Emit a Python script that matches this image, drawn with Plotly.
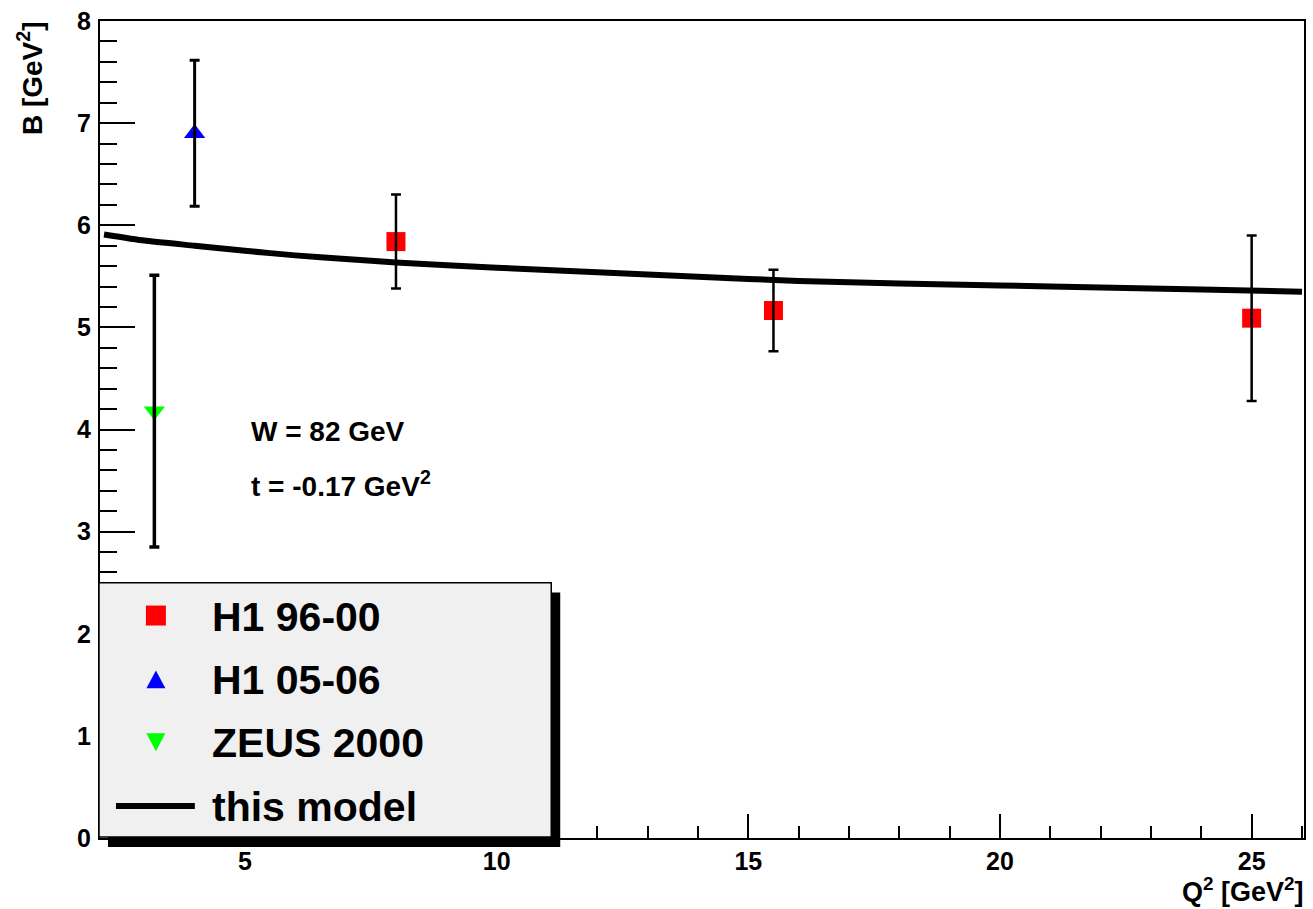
import plotly.graph_objects as go

# ---------------- data ----------------
h1_9600_q2 = [8.0, 15.5, 25.0]
h1_9600_b = [5.84, 5.165, 5.09]
h1_9600_err = [0.46, 0.40, 0.81]

h1_0506_q2 = [4.0]
h1_0506_b = [6.90]
h1_0506_err = [0.715]

zeus_q2 = [3.2]
zeus_b = [4.18]
zeus_err = [1.33]

model_q2 = [2.2, 3, 4, 5, 6, 7, 8, 10, 12, 14, 16, 18, 20, 22, 24, 26]
model_b = [5.91, 5.85, 5.80, 5.75, 5.705, 5.67, 5.635, 5.585, 5.54, 5.495, 5.455, 5.43, 5.41, 5.39, 5.37, 5.35]

legend_labels = ["H1 96-00", "H1 05-06", "ZEUS 2000", "this model"]

# ---------------- geometry helpers (pixels -> paper) ----------------
W, H = 1313, 909
L, R, T, B = 100, 7, 19, 71
PW, PH = W - L - R, H - T - B


def px(x):
    return (x - L) / PW


def py(y):
    return (H - B - y) / PH


FONT = "Liberation Sans, Arial, Helvetica, sans-serif"

fig = go.Figure()

# model curve
fig.add_trace(go.Scatter(x=model_q2, y=model_b, mode="lines",
                         line=dict(color="black", width=6, shape="spline", smoothing=0.5),
                         showlegend=False, hoverinfo="skip"))

# data markers
fig.add_trace(go.Scatter(x=h1_9600_q2, y=h1_9600_b, mode="markers",
                         marker=dict(symbol="square", size=19, color="#ff0000"),
                         showlegend=False))
fig.add_trace(go.Scatter(x=h1_0506_q2, y=h1_0506_b, mode="markers",
                         marker=dict(symbol="triangle-up", size=18.5, color="#0000ff"),
                         showlegend=False))
fig.add_trace(go.Scatter(x=zeus_q2, y=zeus_b, mode="markers",
                         marker=dict(symbol="triangle-down", size=18.5, color="#00ff00"),
                         showlegend=False))

# error bars drawn above markers
for xs, ys, es, th in [(h1_9600_q2, h1_9600_b, h1_9600_err, 2.5),
                       (h1_0506_q2, h1_0506_b, h1_0506_err, 3),
                       (zeus_q2, zeus_b, zeus_err, 3.5)]:
    fig.add_trace(go.Scatter(x=xs, y=ys, mode="markers",
                             marker=dict(size=2, color="rgba(0,0,0,0)"),
                             error_y=dict(type="data", array=es, visible=True,
                                          color="black", thickness=th, width=5),
                             showlegend=False, hoverinfo="skip"))

axis_common = dict(showline=True, linecolor="black", linewidth=2, mirror=True,
                   ticks="inside", tickcolor="black", tickwidth=2,
                   showgrid=False, zeroline=False,
                   tickfont=dict(family=FONT, size=25, color="black", weight="bold"))

fig.update_xaxes(range=[2.12, 26.04], tick0=0, dtick=5, ticklen=24,
                 minor=dict(dtick=1, ticklen=12, tickwidth=2, tickcolor="black",
                            ticks="inside", showgrid=False),
                 **axis_common)
fig.update_yaxes(range=[0, 8], tick0=0, dtick=1, ticklen=35, ticklabelstandoff=2,
                 minor=dict(dtick=0.2, ticklen=17, tickwidth=2, tickcolor="black",
                            ticks="inside", showgrid=False),
                 **axis_common)

# ---------------- legend (box with shadow) ----------------
shapes = []
shapes.append(dict(type="rect", xref="paper", yref="paper",
                   x0=px(108), x1=px(561), y0=py(847), y1=py(592),
                   fillcolor="black", line=dict(width=0), layer="above"))
shapes.append(dict(type="rect", xref="paper", yref="paper",
                   x0=px(99), x1=px(552), y0=py(837), y1=py(582),
                   fillcolor="#f0f0f0", line=dict(color="black", width=1.5), layer="above"))

rows = [615, 679, 742, 806]
mx = 156
# red square
shapes.append(dict(type="rect", xref="paper", yref="paper",
                   x0=px(mx - 10), x1=px(mx + 10), y0=py(rows[0] + 10), y1=py(rows[0] - 10),
                   fillcolor="#ff0000", line=dict(width=0), layer="above"))
# blue triangle up
r = rows[1]
shapes.append(dict(type="path", xref="paper", yref="paper",
                   path=f"M {px(mx-9.5)},{py(r+9)} L {px(mx+9.5)},{py(r+9)} L {px(mx)},{py(r-9)} Z",
                   fillcolor="#0000ff", line=dict(width=0), layer="above"))
# green triangle down
r = rows[2]
shapes.append(dict(type="path", xref="paper", yref="paper",
                   path=f"M {px(mx-9.5)},{py(r-9)} L {px(mx+9.5)},{py(r-9)} L {px(mx)},{py(r+9)} Z",
                   fillcolor="#00ff00", line=dict(width=0), layer="above"))
# line sample
shapes.append(dict(type="line", xref="paper", yref="paper",
                   x0=px(116), x1=px(195), y0=py(rows[3]), y1=py(rows[3]),
                   line=dict(color="black", width=6), layer="above"))

annotations = []
for lab, rr in zip(legend_labels, rows):
    annotations.append(dict(xref="paper", yref="paper", x=px(210), y=py(rr + 1),
                            xanchor="left", yanchor="middle", showarrow=False,
                            text=lab, font=dict(family=FONT, size=41, color="black", weight="bold")))

# in-plot labels
annotations.append(dict(xref="paper", yref="paper", x=px(249), y=py(431),
                        xanchor="left", yanchor="middle", showarrow=False,
                        text="W = 82 GeV",
                        font=dict(family=FONT, size=28, color="black", weight="bold")))
annotations.append(dict(xref="paper", yref="paper", x=px(249), y=py(483),
                        xanchor="left", yanchor="middle", showarrow=False,
                        text="t = -0.17 GeV<sup>2</sup>",
                        font=dict(family=FONT, size=28, color="black", weight="bold")))

# axis titles
annotations.append(dict(xref="paper", yref="paper", x=px(30), y=py(17),
                        xanchor="center", yanchor="top", textangle=-90, showarrow=False,
                        text="B [GeV<sup>2</sup>]",
                        font=dict(family=FONT, size=28, color="black", weight="bold")))
annotations.append(dict(xref="paper", yref="paper", x=px(1308), y=py(890),
                        xanchor="right", yanchor="middle", showarrow=False,
                        text="Q<sup>2</sup> [GeV<sup>2</sup>]",
                        font=dict(family=FONT, size=27, color="black", weight="bold")))

fig.update_layout(width=W, height=H, margin=dict(l=L, r=R, t=T, b=B, pad=0),
                  plot_bgcolor="white", paper_bgcolor="white",
                  shapes=shapes, annotations=annotations, showlegend=False,
                  font=dict(family=FONT))

fig.write_html("out.html")
